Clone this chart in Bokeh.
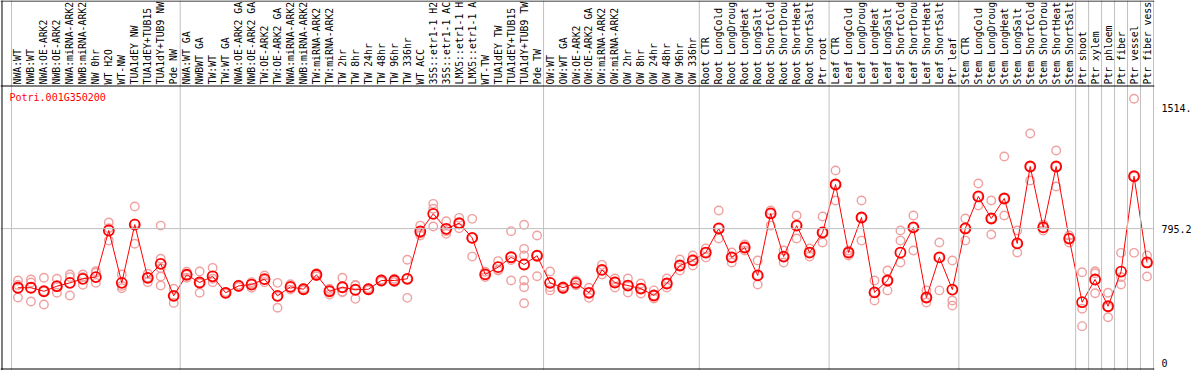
import numpy as np
from bokeh.plotting import figure
from bokeh.models import Range1d, Span, FixedTicker, Label
from bokeh.core.properties import value
from bokeh.embed import file_html
from bokeh.resources import INLINE

gene = "Potri.001G350200"

labels = [
    "NWA:WT", "NWB:WT", "NWA:OE-ARK2", "NWB:OE-ARK2", "NWA:miRNA-ARK2", "NWB:miRNA-ARK2",
    "NW 0hr", "WT H2O", "WT-NW", "TUA1dEY NW", "TUA1dEY+TUB15", "TUA1dY+TUB9 NW", "Pde NW",
    "NWA:WT GA", "NWBWT GA", "TW:WT", "TW:WT GA", "NWA:OE-ARK2 GA", "NWB:OE-ARK2 GA",
    "TW:OE-ARK2", "TW:OE-ARK2 GA", "NWA:miRNA-ARK2", "NWB:miRNA-ARK2", "TW:miRNA-ARK2",
    "TW:miRNA-ARK2", "TW 2hr", "TW 8hr", "TW 24hr", "TW 48hr", "TW 96hr", "TW 336hr",
    "WT ACC", "35S::etr1-1 H2", "35S::etr1-1 AC", "LMX5::etr1-1 H", "LMX5::etr1-1 A",
    "WT-TW", "TUA1dEY TW", "TUA1dEY+TUB15", "TUA1dY+TUB9 TW", "Pde TW",
    "OW:WT", "OW:WT GA", "OW:OE-ARK2", "OW:OE-ARK2 GA", "OW:miRNA-ARK2", "OW:miRNA-ARK2",
    "OW 2hr", "OW 8hr", "OW 24hr", "OW 48hr", "OW 96hr", "OW 336hr",
    "Root CTR", "Root LongCold", "Root LongDroug", "Root LongHeat", "Root LongSalt",
    "Root ShortCold", "Root ShortDrou", "Root ShortHeat", "Root ShortSalt", "Ptr root",
    "Leaf CTR", "Leaf LongCold", "Leaf LongDroug", "Leaf LongHeat", "Leaf LongSalt",
    "Leaf ShortCold", "Leaf ShortDrou", "Leaf ShortHeat", "Leaf ShortSalt", "Ptr leaf",
    "Stem CTR", "Stem LongCold", "Stem LongDroug", "Stem LongHeat", "Stem LongSalt",
    "Stem ShortCold", "Stem ShortDrou", "Stem ShortHeat", "Stem ShortSalt",
    "Ptr shoot", "Ptr xylem", "Ptr phloem", "Ptr fiber", "Ptr vessel", "Ptr fiber vess",
]

# group sizes (columns between separators)
group_sizes = [13, 28, 12, 10, 10, 9, 1, 1, 1, 1, 1, 1]

means = [
    444, 444, 423, 453, 473, 497, 507, 784, 473, 819, 503, 586, 396,
    521, 475, 512, 414, 455, 463, 495, 396, 449, 435, 521, 423, 447, 432, 435,
    487, 487, 497, 778, 883, 794, 827, 740, 523, 566, 625, 582, 634,
    473, 444, 473, 414, 550, 475, 457, 439, 398, 469, 576, 606,
    653, 796, 624, 683, 517, 885, 629, 813, 653, 772,
    1057, 653, 861, 416, 487, 653, 802, 386, 624, 433,
    796, 986, 855, 974, 707, 1164, 802, 1164, 736,
    358, 493, 334, 540, 1106, 594,
]

reps = [
    [487, 460, 386], [493, 475, 362], [503, 423, 344], [497, 450, 414],
    [523, 507, 398], [523, 507, 461], [542, 533, 473], [831, 797, 724],
    [523, 455, 441], [926, 826, 705], [527, 505, 477], [813, 616, 560, 511, 457],
    [438, 396, 354],
    [539, 521, 503], [540, 471, 414], [562, 497, 477], [418, 414, 410],
    [462, 455, 448], [477, 468, 444], [517, 491, 477], [473, 390, 325],
    [465, 449, 433], [441, 435, 429], [530, 521, 512], [438, 427, 404],
    [503, 421, 417], [457, 461, 378], [441, 435, 429], [493, 487, 481],
    [497, 487, 477], [610, 497, 384], [813, 766, 754], [942, 913, 808],
    [839, 779, 764], [859, 827, 797], [853, 740, 629], [539, 523, 507],
    [602, 550, 546], [780, 608, 487], [818, 675, 635, 487, 447, 352],
    [754, 636, 512],
    [540, 447, 428], [451, 444, 437], [487, 473, 459], [444, 414, 384],
    [580, 548, 523], [499, 481, 445], [499, 457, 416], [469, 439, 410],
    [428, 398, 380], [499, 469, 445], [612, 576, 546], [635, 606, 576],
    [677, 653, 624], [903, 796, 736], [653, 624, 594], [701, 683, 665],
    [606, 517, 463], [903, 885, 813], [665, 629, 594], [873, 813, 736],
    [677, 653, 629], [867, 772, 713],
    [1140, 1057, 962], [665, 653, 635], [962, 861, 724], [487, 416, 368],
    [546, 487, 428], [784, 724, 594], [873, 802, 665], [428, 386, 356],
    [713, 624, 428], [606, 368, 338],
    [855, 796, 724], [1063, 986, 932], [962, 855, 760], [1223, 974, 873],
    [784, 707, 653], [1360, 1164, 1081], [819, 802, 784], [1259, 1164, 1045],
    [754, 736, 713],
    [536, 319, 216], [542, 530, 411], [414, 328, 269], [651, 507, 463],
    [1566, 1106, 651], [635, 594, 511],
]

yticks = [0, 795.2, 1514]
ytick_text = {1514: "1514."}

# ---------------------------------------------------------------------------
n = len(labels)
xc = np.arange(n) + 0.5
rx, ry = [], []
for i, r in enumerate(reps):
    rx += [xc[i]] * len(r)
    ry += r

W, H = 1194, 370
COL = 13.0        # px per column
LEFT = 11.0       # px of first column boundary
SC = 0.1684       # px per expression unit
ZERO = 362.0      # px (from top) of value 0


def xd(px):
    return (px - LEFT) / COL


def yd(py):
    return (ZERO - py) / SC


frame_right = LEFT + n * COL + 1
p = figure(width=W, height=H,
           x_range=Range1d(xd(0), xd(frame_right)), y_range=Range1d(yd(H), yd(0)),
           output_backend="svg", toolbar_location=None, x_axis_location=None,
           y_axis_location="right", min_border_left=0, min_border_top=0,
           min_border_bottom=0, min_border_right=int(W - frame_right))
p.outline_line_color = None
p.xgrid.visible = False
p.ygrid.visible = False
p.background_fill_color = "white"
p.border_fill_color = "white"

ax = p.yaxis[0]
ax.ticker = FixedTicker(ticks=yticks)
ax.major_label_overrides = ytick_text
ax.axis_line_color = None
ax.major_tick_line_color = None
ax.minor_tick_line_color = None
ax.major_tick_out = 0
ax.major_tick_in = 0
ax.major_label_standoff = 7
ax.major_label_text_font = "DejaVu Sans Mono"
ax.major_label_text_font_size = "10px"
ax.major_label_text_color = "black"

# separators
b = 0
bounds = [0]
for g in group_sizes:
    b += g
    bounds.append(b)
for bb in bounds:
    p.add_layout(Span(location=bb, dimension="height", line_color="#c0c0c0", line_width=1))

p.add_layout(Span(location=795.2, dimension="width", line_color="#c0c0c0", line_width=1))
p.add_layout(Span(location=yd(85.5), dimension="width", line_color="black", line_width=1))
p.add_layout(Span(location=yd(0.5), dimension="width", line_color="black", line_width=1))
p.add_layout(Span(location=yd(368.5), dimension="width", line_color="black", line_width=1))
p.add_layout(Span(location=xd(1.5), dimension="height", line_color="black", line_width=1))

# header labels
p.text(x=xc, y=[yd(84)] * n, text=labels, angle=np.pi / 2,
       text_font=value("DejaVu Sans Mono"), text_font_size="9.8px",
       text_align="left", text_baseline="middle", text_color="black")

# title
p.add_layout(Label(x=xd(9), y=yd(97), text=gene,
                   text_font="DejaVu Sans Mono", text_font_size="10px",
                   text_color="red", text_baseline="middle", text_align="left"))

p.scatter(x=rx, y=ry, marker="circle", size=8.5, fill_color=None,
          line_color="#f0a0a0", line_width=1.4)
p.line(x=xc, y=means, line_color="red", line_width=1)
p.scatter(x=xc, y=means, marker="circle", size=10, fill_color=None,
          line_color="red", line_width=1.8)

open("out.html", "w").write(file_html(p, INLINE))
